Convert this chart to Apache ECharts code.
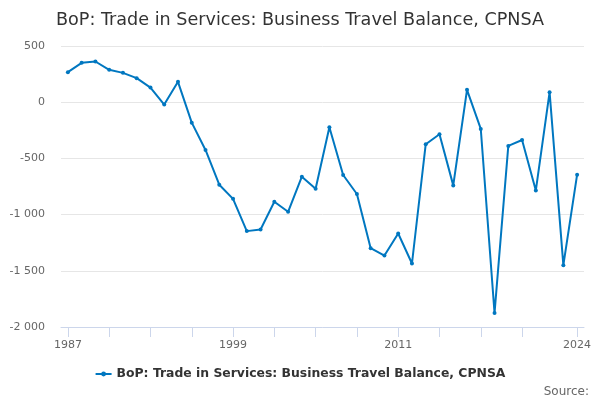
<!DOCTYPE html>
<html>
<head>
<meta charset="utf-8">
<script src="https://cdn.jsdelivr.net/npm/echarts@6/dist/echarts.min.js"></script>
<style>html,body{margin:0;padding:0;background:#fff;}#c{width:600px;height:400px;}</style>
</head>
<body>
<div id="c"></div>
<script>
var years = [];
for (var y = 1987; y <= 2024; y++) years.push(String(y));
var seriesName = 'BoP: Trade in Services: Business Travel Balance, CPNSA';
var values = [267, 350, 362, 288, 261, 214, 130, -21, 181, -182, -425, -734, -860,
  -1147, -1132, -886, -975, -663, -770, -223, -648, -817, -1299, -1364, -1168, -1435,
  -374, -285, -740, 110, -238, -1875, -389, -336, -785, 89, -1450, -645];
var tickIdx = [0,3,6,9,12,15,18,21,24,27,30,33,37];
var labelIdx = [0,12,24,37];

function fmt(v){
  var s = String(Math.abs(v));
  s = s.replace(/\B(?=(\d{3})+(?!\d))/g, ' ');
  return (v < 0 ? '-' : '') + s;
}
var font = 'DejaVu Sans';
var chart = echarts.init(document.getElementById('c'), null, {renderer:'canvas'});
chart.setOption({
  animation: false,
  title: {
    text: 'BoP: Trade in Services: Business Travel Balance, CPNSA',
    left: 'center', top: 6,
    textStyle: {fontFamily: font, fontSize: 17.6, fontWeight: 'normal', color: '#333'}
  },
  grid: {left: 61, right: 16, top: 46, bottom: 73},
  legend: {
    bottom: 15, left: 'center',
    itemWidth: 16, itemHeight: 6, itemGap: 6,
    textStyle: {fontFamily: font, fontSize: 12.4, fontWeight: 'bold', color: '#333'},
    data: [seriesName]
  },
  graphic: [{
    type: 'text', right: 11, top: 386,
    style: {text: 'Source:', fontFamily: font, fontSize: 12, fill: '#666'}
  }],
  xAxis: {
    type: 'category', data: years, boundaryGap: true,
    axisLine: {onZero: false, lineStyle: {color: '#ccd6eb'}},
    axisTick: {show: true, alignWithLabel: true, length: 10, lineStyle: {color: '#ccd6eb'},
      interval: function(i){ return tickIdx.indexOf(i) >= 0; }},
    axisLabel: {fontFamily: font, fontSize: 11, color: '#666', margin: 13,
      interval: function(i){ return labelIdx.indexOf(i) >= 0; }},
    splitLine: {show: false}
  },
  yAxis: {
    type: 'value', min: -2000, max: 500, interval: 500,
    axisLine: {show: false}, axisTick: {show: false},
    axisLabel: {fontFamily: font, fontSize: 11, color: '#666', margin: 16, formatter: fmt},
    splitLine: {lineStyle: {color: '#e6e6e6'}}
  },
  series: [{
    name: seriesName, type: 'line', data: values,
    color: '#0077c0',
    lineStyle: {width: 2},
    symbol: 'circle', symbolSize: 4, showSymbol: true
  }]
});
</script>
</body>
</html>
